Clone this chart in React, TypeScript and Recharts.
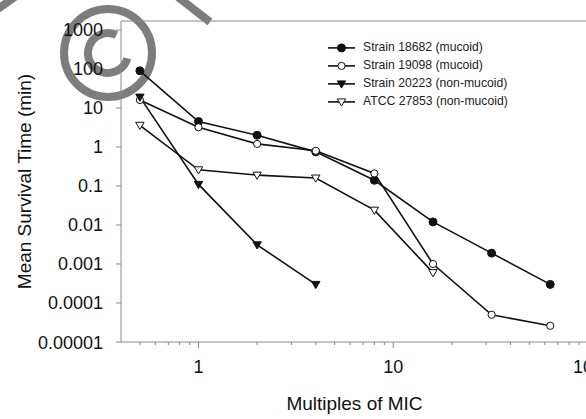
import React from 'react';
import { LineChart, Line, XAxis, YAxis, Legend, ReferenceLine, Label } from 'recharts';

// ---- data ----
const doseX = [0.5, 1, 2, 4, 8, 16, 32, 64];
const strain18682 = [90, 4.5, 2.0, 0.75, 0.14, 0.012, 0.0019, 0.0003];
const strain19098 = [16, 3.2, 1.2, 0.8, 0.21, 0.001, 0.00005, 0.000026];
const strain20223 = [19, 0.11, 0.0031, 0.0003];
const atcc27853 = [3.6, 0.26, 0.19, 0.16, 0.024, 0.0006];

const seriesNames = [
  'Strain 18682 (mucoid)',
  'Strain 19098 (mucoid)',
  'Strain 20223 (non-mucoid)',
  'ATCC 27853 (non-mucoid)',
];
const seriesMarkers = ['filledCircle', 'openCircle', 'filledTriangle', 'openTriangle'];
const seriesValues = [strain18682, strain19098, strain20223, atcc27853];

const xMajorTicks = [1, 10, 100];
const xMinorTicks = [0.5, 0.6, 0.7, 0.8, 0.9, 2, 3, 4, 5, 6, 7, 8, 9, 20, 30, 40, 50, 60, 70, 80, 90];
const yTicks = [0.00001, 0.0001, 0.001, 0.01, 0.1, 1, 10, 100, 1000];
const yTickLabels = ['0.00001', '0.0001', '0.001', '0.01', '0.1', '1', '10', '100', '1000'];
const xDomain = [0.4, 100];
const yDomain = [0.00001, 1700];

const FONT = '"Liberation Sans", Arial, Helvetica, sans-serif';
const INK = '#111';
const AXIS = '#8a8a8a';

const toPoints = (vals: number[]) => vals.map((y, i) => ({ x: doseX[i], y }));

function Marker({ kind, cx, cy }: { kind: string; cx: number; cy: number }) {
  if (kind === 'filledCircle') return <circle cx={cx} cy={cy} r={4} fill={INK} stroke={INK} strokeWidth={1} />;
  if (kind === 'openCircle') return <circle cx={cx} cy={cy} r={3.6} fill="#fff" stroke={INK} strokeWidth={1} />;
  const pts = `${cx - 4.2},${cy - 3} ${cx + 4.2},${cy - 3} ${cx},${cy + 4.2}`;
  if (kind === 'filledTriangle') return <polygon points={pts} fill={INK} stroke={INK} strokeWidth={1} />;
  return <polygon points={pts} fill="#fff" stroke={INK} strokeWidth={1} />;
}

const makeDot = (kind: string) => (props: any) => {
  const { cx, cy, index } = props;
  if (cx == null || cy == null) return <g key={`d-${kind}-${index}`} />;
  return (
    <g key={`d-${kind}-${index}`}>
      <Marker kind={kind} cx={cx} cy={cy} />
    </g>
  );
};

const XTick = (props: any) => {
  const { x, y, payload } = props;
  const v = payload.value;
  const major = xMajorTicks.includes(v);
  return (
    <g>
      <line x1={x} x2={x} y1={y} y2={y + (major ? 6 : 3)} stroke={AXIS} strokeWidth={1} />
      {major && (
        <text x={x} y={y + 31} textAnchor="middle" fontSize={18} fontFamily={FONT} fill={INK}>
          {String(v)}
        </text>
      )}
    </g>
  );
};

const YTick = (props: any) => {
  const { x, y, payload } = props;
  const idx = yTicks.indexOf(payload.value);
  const label = idx >= 0 ? yTickLabels[idx] : String(payload.value);
  return (
    <g>
      <line x1={x - 5} x2={x} y1={y} y2={y} stroke={AXIS} strokeWidth={1} />
      <text x={x - 18} y={y + 6.5} textAnchor="end" fontSize={18} fontFamily={FONT} fill={INK}>
        {label}
      </text>
    </g>
  );
};

const LegendContent = () => (
  <div style={{ fontFamily: FONT, fontSize: 12.2, color: '#222' }}>
    {seriesNames.map((name, i) => (
      <div key={name} style={{ display: 'flex', alignItems: 'center', height: 17.8 }}>
        <svg width={35} height={17.8} style={{ display: 'block' }}>
          <line x1={0} x2={27} y1={8.9} y2={8.9} stroke={INK} strokeWidth={1.6} />
          <Marker kind={seriesMarkers[i]} cx={13.5} cy={8.9} />
        </svg>
        <span style={{ whiteSpace: 'nowrap', lineHeight: '17.8px' }}>{name}</span>
      </div>
    ))}
  </div>
);

function Watermark() {
  const cx = 108;
  const cy = 53;
  const r = 20;
  const a0 = (-65 * Math.PI) / 180;
  const a1 = (15 * Math.PI) / 180;
  const p0 = `${cx + r * Math.cos(a0)},${cy + r * Math.sin(a0)}`;
  const p1 = `${cx + r * Math.cos(a1)},${cy + r * Math.sin(a1)}`;
  return (
    <svg width={586} height={419} style={{ position: 'absolute', left: 0, top: 0 }}>
      <g stroke="#707070" fill="none" strokeWidth={8} opacity={0.9}>
        <circle cx={cx} cy={cy} r={44} />
        <path d={`M ${p0} A ${r} ${r} 0 1 0 ${p1}`} />
        <line x1={178} y1={-3} x2={210} y2={22} />
        <path d="M -4 10 Q 8 2 16 -4" />
      </g>
    </svg>
  );
}

export default function App() {
  return (
    <div style={{ position: 'absolute', left: 0, top: 0, width: 586, height: 419, overflow: 'hidden', background: '#fff' }}>
      <Watermark />
      <div style={{ position: 'absolute', left: 0, top: 0 }}>
        <LineChart width={600} height={419} margin={{ top: 21, right: 12, bottom: 0, left: 0 }}>
          <XAxis
            dataKey="x"
            type="number"
            scale="log"
            domain={xDomain}
            allowDataOverflow
            ticks={[...xMinorTicks, ...xMajorTicks].sort((a, b) => a - b)}
            interval={0}
            tickSize={0}
            tickMargin={0}
            tickLine={false}
            tick={<XTick />}
            height={77}
            axisLine={{ stroke: AXIS, strokeWidth: 1 }}
          >
            <Label value="Multiples of MIC" position="insideBottom" offset={9}
              style={{ fontSize: 19, fontFamily: FONT, fill: INK }} />
          </XAxis>
          <YAxis
            type="number"
            scale="log"
            domain={yDomain}
            allowDataOverflow
            ticks={yTicks}
            interval={0}
            tickSize={0}
            tickMargin={0}
            tickLine={false}
            tick={<YTick />}
            width={121}
            axisLine={{ stroke: AXIS, strokeWidth: 1 }}
          >
            <Label value="Mean Survival Time (min)" angle={-90} position="insideLeft" offset={24}
              style={{ fontSize: 19, fontFamily: FONT, fill: INK, textAnchor: 'middle' }} />
          </YAxis>
          <ReferenceLine y={yDomain[1]} stroke={AXIS} strokeWidth={1} ifOverflow="visible" />
          {seriesValues.map((vals, i) => (
            <Line
              key={seriesNames[i]}
              name={seriesNames[i]}
              data={toPoints(vals)}
              dataKey="y"
              stroke={INK}
              strokeWidth={1.6}
              dot={makeDot(seriesMarkers[i])}
              activeDot={false}
              isAnimationActive={false}
            />
          ))}
          <Legend
            layout="vertical"
            align="center"
            verticalAlign="middle"
            content={<LegendContent />}
            wrapperStyle={{ position: 'absolute', left: 328, top: 39.4, width: 240, bottom: 'auto', right: 'auto' }}
          />
        </LineChart>
      </div>
    </div>
  );
}
